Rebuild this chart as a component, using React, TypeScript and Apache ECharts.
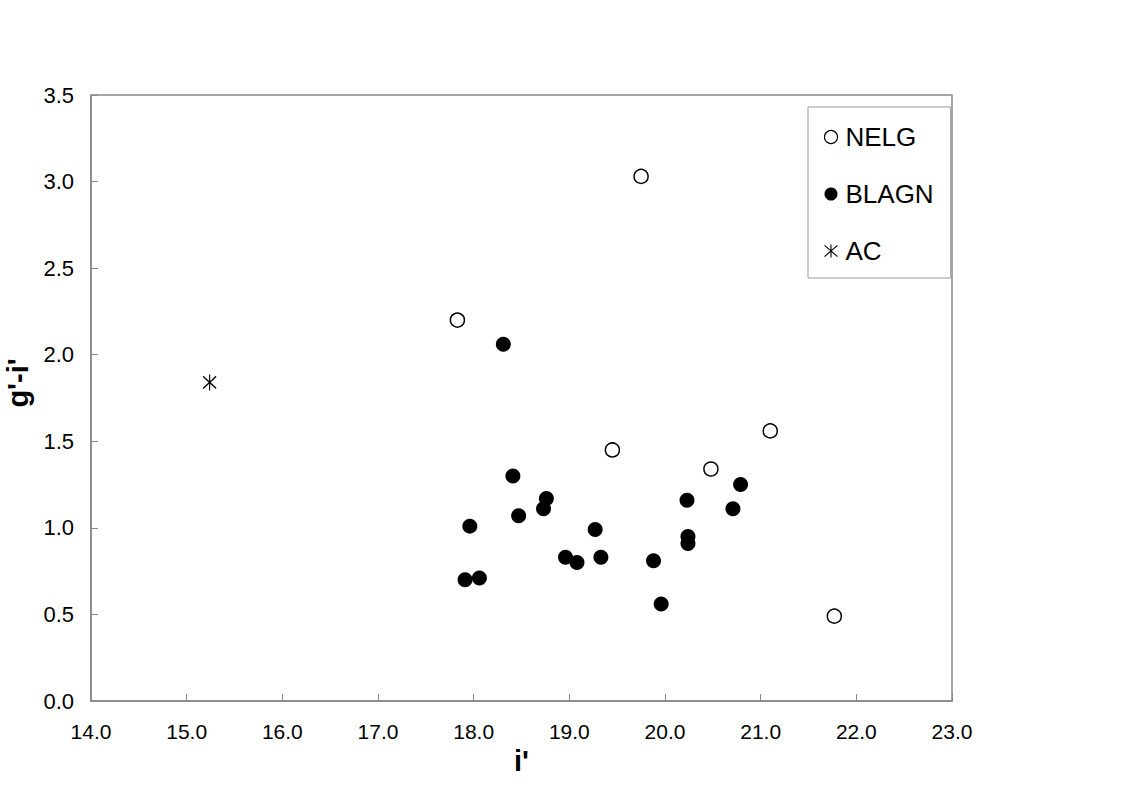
import React, { useEffect, useRef } from "react";
import * as echarts from "echarts";

const nelgX = [17.83, 19.75, 19.45, 20.48, 21.10, 21.77];
const nelgY = [2.20, 3.03, 1.45, 1.34, 1.56, 0.49];

const blagnX = [18.31, 18.41, 18.76, 18.73, 17.96, 18.47, 19.27, 17.91, 18.06, 18.96, 19.08, 19.33, 19.88, 19.96, 20.23, 20.24, 20.24, 20.71, 20.79];
const blagnY = [2.06, 1.30, 1.17, 1.11, 1.01, 1.07, 0.99, 0.70, 0.71, 0.83, 0.80, 0.83, 0.81, 0.56, 1.16, 0.95, 0.91, 1.11, 1.25];

const acX = [15.24];
const acY = [1.84];

const xTitle = "i'";
const yTitle = "g'-i'";

const starPath = "path://M6 0 L6 16 M0 2 L12 14 M0 14 L12 2";
const legendStarPath = "path://M7 0 L7 14 M0 1 L14 13 M0 13 L14 1";

const zip = (xs: number[], ys: number[]) => xs.map((x, i) => [x, ys[i]]);

export default function App() {
  const ref = useRef<HTMLDivElement>(null);
  useEffect(() => {
    if (!ref.current) return;
    const chart = echarts.init(ref.current, null, { renderer: "svg" });
    const font = "'Liberation Sans', Arial, sans-serif";
    const axisColor = "#888";
    chart.setOption({
      animation: false,
      backgroundColor: "#fff",
      textStyle: { fontFamily: font },
      grid: {
        left: 91, right: 182, top: 95, bottom: 91,
        containLabel: false,
        outerBoundsMode: "none",
        show: true, borderColor: axisColor, borderWidth: 1.5,
      },
      legend: {
        orient: "vertical",
        left: 808, top: 107,
        padding: [17, 17, 14, 14],
        itemGap: 31,
        itemWidth: 13, itemHeight: 13,
        borderColor: "#999", borderWidth: 1,
        textStyle: { fontSize: 26, color: "#000", fontFamily: font, padding: [0, 0, 0, 3] },
        data: [
          { name: "NELG", icon: "circle", itemStyle: { color: "#fff", borderColor: "#000", borderWidth: 1.2 } },
          { name: "BLAGN", icon: "circle" },
          { name: "AC", icon: legendStarPath, itemStyle: { color: "none", borderColor: "#000", borderWidth: 1.1 } },
        ],
      },
      xAxis: {
        type: "value", min: 14, max: 23, interval: 1,
        name: xTitle, nameLocation: "middle", nameGap: 45,
        nameTextStyle: { fontSize: 29, fontWeight: "bold", color: "#000", fontFamily: font },
        axisLine: { show: true, lineStyle: { color: axisColor, width: 1.5 } },
        axisTick: { show: true, inside: true, length: 7, lineStyle: { color: axisColor } },
        axisLabel: { fontSize: 21, color: "#000", margin: 20, formatter: (v: number) => v.toFixed(1) },
        splitLine: { show: false },
      },
      yAxis: {
        type: "value", min: 0, max: 3.5, interval: 0.5,
        name: yTitle, nameLocation: "middle", nameGap: 46,
        nameTextStyle: { fontSize: 29, fontWeight: "bold", color: "#000", fontFamily: font, padding: [0, 0, 0, 30] },
        axisLine: { show: true, lineStyle: { color: axisColor, width: 1.5 } },
        axisTick: { show: true, inside: true, length: 7, lineStyle: { color: axisColor } },
        axisLabel: { fontSize: 22, color: "#000", margin: 17, formatter: (v: number) => v.toFixed(1) },
        splitLine: { show: false },
      },
      series: [
        {
          name: "NELG", type: "scatter", data: zip(nelgX, nelgY),
          symbol: "circle", symbolSize: 14,
          itemStyle: { color: "#fff", borderColor: "#000", borderWidth: 1.5, opacity: 1 },
        },
        {
          name: "BLAGN", type: "scatter", data: zip(blagnX, blagnY),
          symbol: "circle", symbolSize: 15,
          itemStyle: { color: "#000", opacity: 1 },
        },
        {
          name: "AC", type: "scatter", data: zip(acX, acY),
          symbol: starPath, symbolSize: [13, 16],
          itemStyle: { color: "none", borderColor: "#000", borderWidth: 1.3, opacity: 1 },
        },
      ],
    });
    return () => chart.dispose();
  }, []);
  return <div ref={ref} style={{ position: "fixed", left: 0, top: 0, width: 1134, height: 792 }} />;
}
